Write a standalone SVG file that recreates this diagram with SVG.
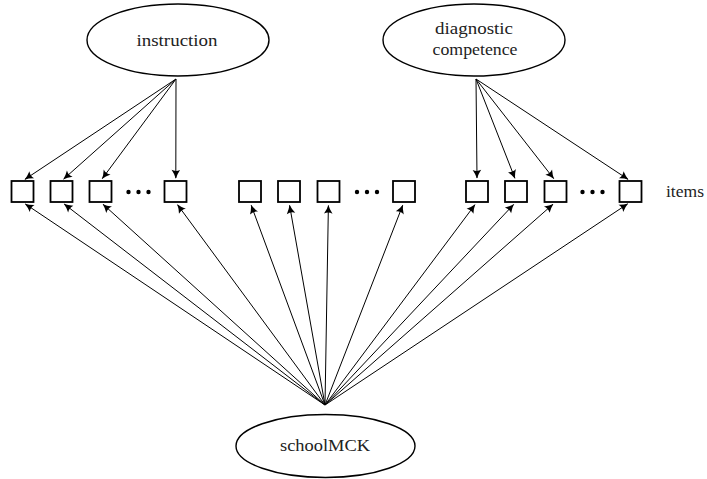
<svg xmlns="http://www.w3.org/2000/svg" width="707" height="479" viewBox="0 0 707 479">
<style>
.bg{fill:#fff}
.ell{fill:#fff;stroke:#000;stroke-width:1.4}
.box{fill:#fff;stroke:#000;stroke-width:1.8}
.lbl{font-family:'Liberation Serif','Times New Roman',serif;font-size:17px;fill:#222;text-anchor:middle}
.edge{stroke:#000;stroke-width:1;fill:none;marker-end:url(#arr)}
.dot{fill:#000}
</style>
<defs>
<marker id="arr" markerUnits="userSpaceOnUse" markerWidth="10" markerHeight="10" refX="0" refY="0" viewBox="-7 -4 8 8" orient="auto" overflow="visible">
<path d="M0.5,0 Q-3,-1 -6.5,-3.4 Q-4.8,0 -6.5,3.4 Q-3,1 0.5,0 Z" fill="#000"/>
</marker>
</defs>
<rect class="bg" x="0" y="0" width="707" height="479"/>
<g id="connectors">
<line class="edge" x1="176" y1="79" x2="25" y2="179.3"/>
<line class="edge" x1="176" y1="79" x2="63.7" y2="179"/>
<line class="edge" x1="176" y1="79" x2="102.3" y2="178.6"/>
<line class="edge" x1="176" y1="79" x2="175.8" y2="178"/>
<line class="edge" x1="476" y1="79" x2="477" y2="178"/>
<line class="edge" x1="476" y1="79" x2="514.9" y2="178.2"/>
<line class="edge" x1="476" y1="79" x2="553.7" y2="178.6"/>
<line class="edge" x1="476" y1="79" x2="628" y2="179.3"/>
<line class="edge" x1="325" y1="405" x2="25.4" y2="204"/>
<line class="edge" x1="325" y1="405" x2="64.3" y2="204.1"/>
<line class="edge" x1="325" y1="405" x2="103.1" y2="204.3"/>
<line class="edge" x1="325" y1="405" x2="177.6" y2="204.8"/>
<line class="edge" x1="325" y1="405" x2="251.2" y2="205.3"/>
<line class="edge" x1="325" y1="405" x2="289.6" y2="205.4"/>
<line class="edge" x1="325" y1="405" x2="328.4" y2="205.5"/>
<line class="edge" x1="325" y1="405" x2="402.7" y2="205.3"/>
<line class="edge" x1="325" y1="405" x2="474.9" y2="204.8"/>
<line class="edge" x1="325" y1="405" x2="513.6" y2="204.5"/>
<line class="edge" x1="325" y1="405" x2="552.9" y2="204.3"/>
<line class="edge" x1="325" y1="405" x2="627.6" y2="203.9"/>
</g>
<g id="instruction">
<ellipse class="ell" cx="178" cy="40" rx="91" ry="36"/>
<text class="lbl" x="177" y="46" textLength="81" lengthAdjust="spacingAndGlyphs">instruction</text>
</g>
<g id="diagnostic">
<ellipse class="ell" cx="474" cy="40" rx="91" ry="36"/>
<text class="lbl" x="474" y="34" textLength="78" lengthAdjust="spacingAndGlyphs">diagnostic</text>
<text class="lbl" x="475" y="55" textLength="85" lengthAdjust="spacingAndGlyphs">competence</text>
</g>
<g id="schoolMCK">
<ellipse class="ell" cx="325.5" cy="446" rx="89.5" ry="31.5"/>
<text class="lbl" x="325" y="451" textLength="90" lengthAdjust="spacingAndGlyphs">schoolMCK</text>
</g>
<g id="items-group1">
<rect class="box" x="11.5" y="181" width="22" height="21"/>
<rect class="box" x="50.5" y="181" width="22" height="21"/>
<rect class="box" x="89.5" y="181" width="22" height="21"/>
<circle class="dot" cx="128.5" cy="192" r="2.2"/>
<circle class="dot" cx="138.5" cy="192" r="2.2"/>
<circle class="dot" cx="148.5" cy="192" r="2.2"/>
<rect class="box" x="164.5" y="181" width="22" height="21"/>
</g>
<g id="items-group2">
<rect class="box" x="239" y="181" width="22" height="21"/>
<rect class="box" x="278" y="181" width="22" height="21"/>
<rect class="box" x="317.5" y="181" width="22" height="21"/>
<circle class="dot" cx="357" cy="192" r="2.2"/>
<circle class="dot" cx="367" cy="192" r="2.2"/>
<circle class="dot" cx="377" cy="192" r="2.2"/>
<rect class="box" x="393" y="181" width="22" height="21"/>
</g>
<g id="items-group3">
<rect class="box" x="466" y="181" width="22" height="21"/>
<rect class="box" x="505" y="181" width="22" height="21"/>
<rect class="box" x="544.5" y="181" width="22" height="21"/>
<circle class="dot" cx="582.5" cy="192" r="2.2"/>
<circle class="dot" cx="592.5" cy="192" r="2.2"/>
<circle class="dot" cx="602.5" cy="192" r="2.2"/>
<rect class="box" x="619.5" y="181" width="22" height="21"/>
</g>
<g id="items-label">
<text class="lbl" x="685" y="197" textLength="38" lengthAdjust="spacingAndGlyphs">items</text>
</g>
</svg>
